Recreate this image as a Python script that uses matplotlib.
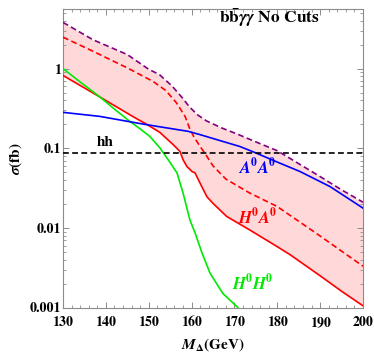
import numpy as np
import matplotlib
matplotlib.use("Agg")
import matplotlib.pyplot as plt
from matplotlib.ticker import FixedLocator, NullFormatter

plt.rcParams['font.family'] = ['STIXGeneral', 'DejaVu Serif']
plt.rcParams['mathtext.fontset'] = 'stix'

# upper edge of the band (purple dashed)
m_upper = [130, 137, 145, 150, 152.5, 155.5, 158, 159.5, 161.5, 163.5, 167, 171, 175, 180, 185, 190, 195, 200]
sig_upper = [3.8, 2.3, 1.5, 0.98, 0.84, 0.6, 0.42, 0.33, 0.26, 0.22, 0.18, 0.148, 0.12, 0.093, 0.064, 0.044, 0.030, 0.021]

# H0A0 dashed (upper)
m_ha_up = [130, 137, 145, 151, 154, 156.5, 158.5, 159.5, 160.5, 162, 163, 165, 168, 173.5, 180, 185, 190, 195, 200]
sig_ha_up = [2.48, 1.65, 1.02, 0.69, 0.53, 0.37, 0.25, 0.18, 0.14, 0.105, 0.088, 0.06, 0.041, 0.0275, 0.0185, 0.0121, 0.0079, 0.0051, 0.0033]

# H0A0 solid
m_ha = [130, 138.6, 146.3, 149.5, 152.6, 155.7, 157.3, 158, 158.9, 160.1, 160.8, 162.4, 163.6, 165, 166.6, 168.2, 173.6, 180, 183, 190, 195, 200]
sig_ha = [0.82, 0.44, 0.25, 0.20, 0.158, 0.111, 0.091, 0.072, 0.059, 0.051, 0.049, 0.0328, 0.0245, 0.0203, 0.0168, 0.0139, 0.0094, 0.0058, 0.0046, 0.0025, 0.0016, 0.00105]

# H0H0
m_hh0 = [130, 134, 138.6, 142, 145.6, 148, 150.3, 152.6, 155, 156.6, 158, 159.6, 160.8, 162.4, 164.3, 167.3, 170.8]
sig_hh0 = [1.0, 0.68, 0.44, 0.31, 0.217, 0.175, 0.14, 0.101, 0.066, 0.049, 0.0275, 0.0126, 0.0087, 0.0049, 0.0027, 0.0015, 0.001]

# A0A0
m_aa = [130, 138.6, 145.6, 148.7, 152, 159.2, 162, 167, 171.3, 174.4, 180, 185.3, 192.3, 200]
sig_aa = [0.282, 0.251, 0.215, 0.201, 0.188, 0.163, 0.148, 0.123, 0.105, 0.09, 0.067, 0.051, 0.033, 0.0177]

# SM hh
sig_sm = 0.088

fig = plt.figure(figsize=(3.74, 3.58), dpi=100)
ax = fig.add_axes([63/374, 50.5/358, 300/374, 298.5/358])

# band between solid H0A0 and the purple curve
m_band = np.union1d(m_upper, m_ha)
lo = 10**np.interp(m_band, m_ha, np.log10(sig_ha))
hi = 10**np.interp(m_band, m_upper, np.log10(sig_upper))
ax.fill_between(m_band, lo, hi, color='#ffd9d9', lw=0, zorder=1)

ax.plot(m_upper, sig_upper, color='#800080', lw=1.2, dashes=(3.5, 2), zorder=3)
ax.plot(m_ha_up, sig_ha_up, color='red', lw=1.2, dashes=(3.5, 2), zorder=3)
ax.plot(m_ha, sig_ha, color='red', lw=1.2, zorder=3)
ax.plot(m_hh0, sig_hh0, color='#00ea00', lw=1.2, zorder=3)
ax.plot(m_aa, sig_aa, color='blue', lw=1.2, zorder=3)
ax.axhline(sig_sm, color='black', lw=1.2, dashes=(3.5, 2), zorder=4)

ax.set_yscale('log')
ax.set_xlim(130, 200)
ax.set_ylim(0.001, 5.6)

# ticks, Mathematica-like frame
ax.set_xticks(range(130, 201, 10))
ax.xaxis.set_minor_locator(FixedLocator(np.arange(130, 201, 2)))
ax.set_yticks([0.001, 0.01, 0.1, 1])
ax.set_yticklabels(['0.001', '0.01', '0.1', '1'])
minors = [k * 10.0**e for e in range(-3, 1) for k in range(2, 10)]
ax.yaxis.set_minor_locator(FixedLocator(minors))
ax.yaxis.set_minor_formatter(NullFormatter())
ax.tick_params(which='both', direction='in', top=True, right=True, color='0.55')
ax.tick_params(which='major', length=4.5, width=0.7, labelsize=10)
ax.tick_params(axis='x', which='major', pad=6)
ax.tick_params(axis='y', which='major', pad=1.5)
ax.tick_params(which='minor', length=2.5, width=0.6)
for lab in ax.get_xticklabels() + ax.get_yticklabels():
    lab.set_fontweight('bold')
for s in ax.spines.values():
    s.set_color('0.55')
    s.set_linewidth(0.8)

ax.set_xlabel(r'$\mathbfit{M}_{\mathbf{\Delta}}$(GeV)', fontsize=11, fontweight='bold', labelpad=5)
ax.set_ylabel(r'$\mathbfit{\sigma}$(fb)', fontsize=11, fontweight='bold', labelpad=4)

ax.text(178.1, 4.4, r'$\mathbf{b\bar{b}}\mathbfit{\gamma\gamma}$ No Cuts', fontsize=12.5,
        fontweight='bold', ha='center', va='center')
ax.text(139.8, 0.117, 'hh', fontsize=11, fontweight='bold', ha='center', va='center')
ax.text(175.3, 0.057, r'$\mathbfit{A}^{\mathbf{0}}\mathbfit{A}^{\mathbf{0}}$', color='blue',
        fontsize=12, ha='center', va='center')
ax.text(175.3, 0.0134, r'$\mathbfit{H}^{\mathbf{0}}\mathbfit{A}^{\mathbf{0}}$', color='red',
        fontsize=12, ha='center', va='center')
ax.text(174.3, 0.00203, r'$\mathbfit{H}^{\mathbf{0}}\mathbfit{H}^{\mathbf{0}}$', color='#00ea00',
        fontsize=12, ha='center', va='center')

fig.savefig('out.png', dpi=100)
